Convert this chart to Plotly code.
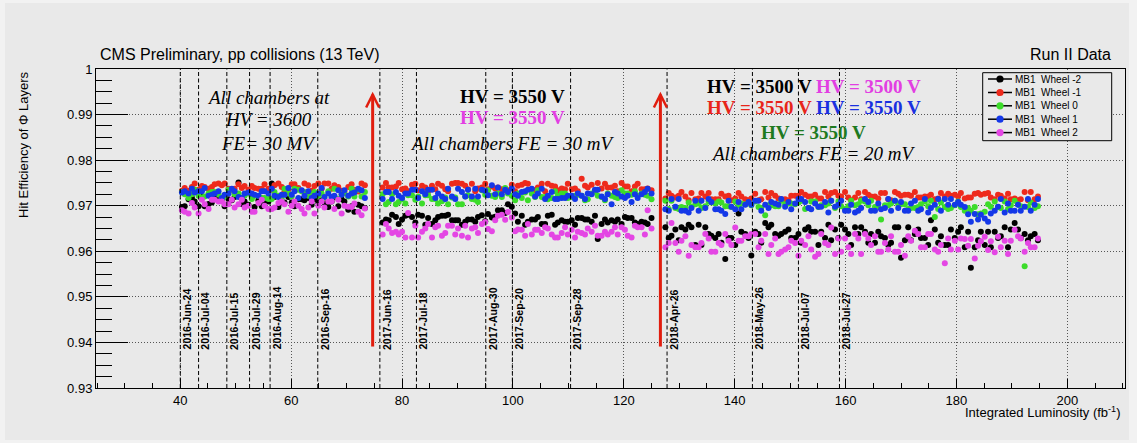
import plotly.graph_objects as go

# Integrated luminosity (fb^-1) of each run, per data-taking year
LUMI_2016 = [40.3, 40.8, 41.5, 42.1, 42.6, 43.3, 43.9, 44.4, 45.1, 45.7,
             46.2, 46.9, 47.5, 48.0, 48.7, 49.3, 49.8, 50.5, 51.1, 51.6,
             52.3, 52.9, 53.4, 54.1, 54.7, 55.2, 55.9, 56.5, 57.0, 57.7,
             58.3, 58.8, 59.5, 60.1, 60.6, 61.3, 61.9, 62.4, 63.1, 63.7,
             64.2, 64.9, 65.5, 66.0, 66.7, 67.3, 67.8, 68.5, 69.1, 69.6,
             70.3, 70.9, 71.4, 72.1, 72.7, 73.3]
LUMI_2017 = [76.5, 77.1, 77.6, 78.2, 78.9, 79.4, 80.0, 80.6, 81.1, 81.8,
             82.4, 82.9, 83.6, 84.2, 84.7, 85.4, 86.0, 86.5, 87.2, 87.8,
             88.3, 89.0, 89.6, 90.1, 90.8, 91.4, 91.9, 92.6, 93.2, 93.7,
             94.4, 95.0, 95.5, 96.2, 96.8, 97.3, 98.0, 98.6, 99.1, 99.8,
             100.4, 100.9, 101.6, 102.2, 102.7, 103.4, 104.0, 104.5, 105.2, 105.8,
             106.3, 107.0, 107.6, 108.1, 108.8, 109.4, 109.9, 110.6, 111.2, 111.7,
             112.4, 113.0, 113.5, 114.2, 114.8, 115.3, 116.0, 116.6, 117.1, 117.8,
             118.4, 118.9, 119.6, 120.2, 120.7, 121.4, 122.0, 122.5, 123.2, 123.8,
             124.3, 125.0]
LUMI_2018 = [127.5, 128.1, 128.6, 129.3, 129.9, 130.4, 131.1, 131.7, 132.2, 132.9,
             133.5, 134.0, 134.7, 135.3, 135.8, 136.5, 137.1, 137.6, 138.3, 138.9,
             139.4, 140.1, 140.7, 141.2, 141.9, 142.5, 143.0, 143.7, 144.3, 144.8,
             145.5, 146.1, 146.6, 147.3, 147.9, 148.4, 149.1, 149.7, 150.2, 150.9,
             151.5, 152.0, 152.7, 153.3, 153.8, 154.5, 155.1, 155.6, 156.3, 156.9,
             157.4, 158.1, 158.7, 159.2, 159.9, 160.5, 161.0, 161.7, 162.3, 162.8,
             163.5, 164.1, 164.6, 165.3, 165.9, 166.4, 167.1, 167.7, 168.2, 168.9,
             169.5, 170.0, 170.7, 171.3, 171.8, 172.5, 173.1, 173.6, 174.3, 174.9,
             175.4, 176.1, 176.7, 177.2, 177.9, 178.5, 179.0, 179.7, 180.3, 180.8,
             181.5, 182.1, 182.6, 183.3, 183.9, 184.4, 185.1, 185.7, 186.2, 186.9,
             187.5, 188.0, 188.7, 189.3, 189.8, 190.5, 191.1, 191.6, 192.3, 192.9,
             193.4, 194.1, 194.7]
LUMI = LUMI_2016 + LUMI_2017 + LUMI_2018

# Hit efficiency of the Phi layers in MB1 chambers, one list per wheel (2016 + 2017 + 2018)
EFF_WM2 = ([0.9697,
            0.9699, 0.9714, 0.9717, 0.9709, 0.9699, 0.9719, 0.9699, 0.9704, 0.9707, 0.9717,
            0.9712, 0.9714, 0.9699, 0.9714, 0.9712, 0.9719, 0.9751, 0.9704, 0.9709, 0.9702,
            0.9719, 0.9697, 0.9712, 0.9699, 0.9709, 0.9709, 0.9749, 0.9719, 0.9697, 0.9707,
            0.9707, 0.9719, 0.9707, 0.9699, 0.9714, 0.9714, 0.9712, 0.9717, 0.9702, 0.9714,
            0.9707, 0.9712, 0.9707, 0.9697, 0.9709, 0.9719, 0.9699, 0.9714, 0.9709, 0.9691,
            0.9699, 0.9687, 0.9702, 0.9699, 0.9695]
           + [0.9663, 0.9670, 0.9668, 0.9680, 0.9675,
              0.9660, 0.9670, 0.9678, 0.9680, 0.9675, 0.9663, 0.9680, 0.9678, 0.9658, 0.9673,
              0.9660, 0.9668, 0.9675, 0.9678, 0.9678, 0.9680, 0.9668, 0.9668, 0.9668, 0.9658,
              0.9665, 0.9670, 0.9670, 0.9665, 0.9675, 0.9679, 0.9666, 0.9682, 0.9674, 0.9676,
              0.9690, 0.9690, 0.9684, 0.9703, 0.9698, 0.9683, 0.9665, 0.9678, 0.9658, 0.9665,
              0.9670, 0.9670, 0.9675, 0.9660, 0.9660, 0.9678, 0.9680, 0.9658, 0.9663, 0.9668,
              0.9665, 0.9665, 0.9668, 0.9658, 0.9673, 0.9673, 0.9670, 0.9670, 0.9665, 0.9678,
              0.9627, 0.9660, 0.9670, 0.9663, 0.9668, 0.9665, 0.9670, 0.9660, 0.9675, 0.9673,
              0.9673, 0.9663, 0.9660, 0.9665, 0.9663, 0.9660, 0.9673]
           + [0.9653, 0.9629, 0.9634,
              0.9648, 0.9624, 0.9653, 0.9648, 0.9658, 0.9653, 0.9614, 0.9658, 0.9614, 0.9653,
              0.9638, 0.9634, 0.9629, 0.9638, 0.9619, 0.9583, 0.9629, 0.9629, 0.9614, 0.9683,
              0.9643, 0.9638, 0.9629, 0.9591, 0.9643, 0.9638, 0.9619, 0.9662, 0.9653, 0.9658,
              0.9638, 0.9634, 0.9638, 0.9643, 0.9648, 0.9629, 0.9629, 0.9638, 0.9619, 0.9648,
              0.9653, 0.9643, 0.9643, 0.9614, 0.9643, 0.9629, 0.9658, 0.9624, 0.9648, 0.9629,
              0.9658, 0.9648, 0.9638, 0.9614, 0.9653, 0.9638, 0.9653, 0.9643, 0.9619, 0.9638,
              0.9619, 0.9643, 0.9633, 0.9629, 0.9614, 0.9619, 0.9653, 0.9653, 0.9586, 0.9624,
              0.9653, 0.9624, 0.9638, 0.9648, 0.9629, 0.9629, 0.9614, 0.9668, 0.9648, 0.9619,
              0.9633, 0.9614, 0.9614, 0.9648, 0.9629, 0.9643, 0.9653, 0.9609, 0.9643, 0.9564,
              0.9609, 0.9624, 0.9643, 0.9614, 0.9643, 0.9609, 0.9643, 0.9629, 0.9633, 0.9653,
              0.9609, 0.9648, 0.9662, 0.9648, 0.9629, 0.9638, 0.9624, 0.9633, 0.9638, 0.9624])

EFF_WM1 = ([0.9733, 0.9739, 0.9733, 0.9741, 0.9749, 0.9735, 0.9743, 0.9741, 0.9737, 0.9741,
            0.9747, 0.9749, 0.9745, 0.9749, 0.9737, 0.9735, 0.9737, 0.9747, 0.9739, 0.9743,
            0.9735, 0.9743, 0.9739, 0.9737, 0.9737, 0.9747, 0.9737, 0.9735, 0.9745, 0.9749,
            0.9741, 0.9731, 0.9735, 0.9747, 0.9747, 0.9739, 0.9733, 0.9749, 0.9745, 0.9733,
            0.9743, 0.9749, 0.9737, 0.9749, 0.9749, 0.9737, 0.9745, 0.9741, 0.9733, 0.9731,
            0.9741, 0.9747, 0.9735, 0.9731, 0.9749, 0.9745]
           + [0.9740, 0.9750, 0.9740, 0.9740,
              0.9742, 0.9750, 0.9736, 0.9738, 0.9732, 0.9746, 0.9748, 0.9734, 0.9744, 0.9740,
              0.9732, 0.9744, 0.9736, 0.9748, 0.9744, 0.9736, 0.9732, 0.9748, 0.9750, 0.9750,
              0.9748, 0.9744, 0.9736, 0.9748, 0.9732, 0.9738, 0.9740, 0.9748, 0.9736, 0.9742,
              0.9738, 0.9740, 0.9736, 0.9734, 0.9734, 0.9746, 0.9732, 0.9744, 0.9746, 0.9750,
              0.9748, 0.9736, 0.9734, 0.9740, 0.9748, 0.9732, 0.9748, 0.9744, 0.9742, 0.9734,
              0.9738, 0.9736, 0.9748, 0.9736, 0.9738, 0.9732, 0.9759, 0.9744, 0.9740, 0.9746,
              0.9732, 0.9750, 0.9738, 0.9748, 0.9740, 0.9740, 0.9744, 0.9732, 0.9750, 0.9742,
              0.9742, 0.9732, 0.9742, 0.9748, 0.9736, 0.9736, 0.9738, 0.9734]
           + [0.9716, 0.9728,
              0.9722, 0.9718, 0.9722, 0.9730, 0.9720, 0.9712, 0.9728, 0.9714, 0.9716, 0.9728,
              0.9720, 0.9728, 0.9714, 0.9714, 0.9714, 0.9726, 0.9720, 0.9722, 0.9712, 0.9716,
              0.9728, 0.9720, 0.9714, 0.9712, 0.9716, 0.9726, 0.9712, 0.9714, 0.9730, 0.9718,
              0.9728, 0.9722, 0.9716, 0.9714, 0.9714, 0.9712, 0.9722, 0.9722, 0.9722, 0.9730,
              0.9724, 0.9720, 0.9720, 0.9724, 0.9716, 0.9716, 0.9730, 0.9720, 0.9728, 0.9730,
              0.9722, 0.9720, 0.9730, 0.9718, 0.9712, 0.9718, 0.9728, 0.9714, 0.9730, 0.9724,
              0.9720, 0.9720, 0.9716, 0.9728, 0.9728, 0.9714, 0.9712, 0.9730, 0.9726, 0.9722,
              0.9724, 0.9724, 0.9722, 0.9730, 0.9718, 0.9718, 0.9720, 0.9720, 0.9724, 0.9714,
              0.9716, 0.9728, 0.9720, 0.9726, 0.9722, 0.9724, 0.9720, 0.9728, 0.9716, 0.9718,
              0.9718, 0.9726, 0.9728, 0.9724, 0.9726, 0.9728, 0.9718, 0.9714, 0.9724, 0.9722,
              0.9716, 0.9726, 0.9714, 0.9716, 0.9712, 0.9714, 0.9730, 0.9712, 0.9730, 0.9714,
              0.9720])

EFF_W0 = ([0.9730, 0.9725, 0.9717, 0.9725, 0.9735, 0.9722, 0.9717,
           0.9720, 0.9727, 0.9730, 0.9730, 0.9725, 0.9715, 0.9720, 0.9735, 0.9735, 0.9725,
           0.9727, 0.9715, 0.9722, 0.9727, 0.9715, 0.9722, 0.9722, 0.9717, 0.9717, 0.9715,
           0.9715, 0.9730, 0.9722, 0.9715, 0.9737, 0.9727, 0.9720, 0.9737, 0.9735, 0.9732,
           0.9730, 0.9722, 0.9725, 0.9730, 0.9722, 0.9727, 0.9717, 0.9732, 0.9717, 0.9737,
           0.9715, 0.9725, 0.9727, 0.9720, 0.9737, 0.9720, 0.9735, 0.9720, 0.9730]
          + [0.9725,
             0.9703, 0.9708, 0.9725, 0.9703, 0.9708, 0.9715, 0.9705, 0.9723, 0.9723, 0.9713,
             0.9720, 0.9705, 0.9723, 0.9723, 0.9715, 0.9715, 0.9705, 0.9710, 0.9718, 0.9703,
             0.9718, 0.9718, 0.9703, 0.9703, 0.9720, 0.9723, 0.9715, 0.9713, 0.9708,
             0.9734,
             0.9724, 0.9734, 0.9722, 0.9719, 0.9727, 0.9719, 0.9739, 0.9727, 0.9722,
             0.9712,
             0.9727, 0.9717, 0.9729, 0.9712, 0.9727, 0.9719, 0.9734, 0.9719, 0.9719, 0.9714,
             0.9717, 0.9732, 0.9722, 0.9727, 0.9727, 0.9717, 0.9719, 0.9722, 0.9724, 0.9722,
             0.9712, 0.9714, 0.9727, 0.9732, 0.9722, 0.9719, 0.9712, 0.9727, 0.9722, 0.9719,
             0.9717, 0.9734, 0.9727, 0.9727, 0.9724, 0.9732, 0.9722, 0.9727, 0.9724, 0.9722,
             0.9714]
          + [0.9711, 0.9693, 0.9711, 0.9695, 0.9693, 0.9697, 0.9695, 0.9707, 0.9697,
             0.9703, 0.9705, 0.9695, 0.9699, 0.9709, 0.9707, 0.9705, 0.9709, 0.9707, 0.9699,
             0.9699, 0.9697, 0.9709, 0.9701, 0.9705, 0.9703, 0.9707, 0.9701, 0.9709, 0.9697,
             0.9695, 0.9679, 0.9701, 0.9701, 0.9699, 0.9699, 0.9711, 0.9703, 0.9705, 0.9705,
             0.9703, 0.9707, 0.9711, 0.9693, 0.9695, 0.9709, 0.9709, 0.9697, 0.9701, 0.9701,
             0.9705, 0.9711, 0.9695, 0.9709, 0.9699, 0.9693, 0.9699, 0.9711, 0.9701, 0.9703,
             0.9711, 0.9709, 0.9701, 0.9711, 0.9697, 0.9697, 0.9670, 0.9701, 0.9701, 0.9705,
             0.9711, 0.9703, 0.9703, 0.9703, 0.9693, 0.9695, 0.9695, 0.9697, 0.9703, 0.9709,
             0.9699, 0.9711, 0.9675, 0.9693, 0.9707, 0.9697, 0.9693, 0.9695, 0.9701, 0.9709,
             0.9697, 0.9689, 0.9695, 0.9689, 0.9697, 0.9681, 0.9683, 0.9687, 0.9703, 0.9698,
             0.9709, 0.9697, 0.9695, 0.9709, 0.9693, 0.9701, 0.9711, 0.9703, 0.9699, 0.9567,
             0.9697, 0.9707, 0.9695, 0.9699])

EFF_W1 = ([0.9729, 0.9732, 0.9727, 0.9737, 0.9729, 0.9732, 0.9732, 0.9739, 0.9722,
           0.9724, 0.9727, 0.9732, 0.9717, 0.9724, 0.9727, 0.9737, 0.9732, 0.9719, 0.9717,
           0.9727, 0.9729, 0.9727, 0.9724, 0.9722, 0.9732, 0.9732, 0.9727, 0.9737, 0.9722,
           0.9719, 0.9724, 0.9724, 0.9739, 0.9724, 0.9732, 0.9717, 0.9734, 0.9722, 0.9732,
           0.9717, 0.9722, 0.9727, 0.9739, 0.9719, 0.9727, 0.9719, 0.9722, 0.9734, 0.9724,
           0.9734, 0.9722, 0.9727, 0.9729, 0.9737, 0.9734, 0.9717]
          + [0.9715, 0.9730, 0.9730,
             0.9715, 0.9730, 0.9722, 0.9717, 0.9727, 0.9727, 0.9735, 0.9735, 0.9717, 0.9732,
             0.9725, 0.9735, 0.9735, 0.9717, 0.9727, 0.9720, 0.9715, 0.9737, 0.9720, 0.9715,
             0.9737, 0.9730, 0.9720, 0.9735, 0.9720, 0.9737, 0.9720, 0.9735, 0.9733, 0.9723,
             0.9745, 0.9725, 0.9740, 0.9725, 0.9735, 0.9730, 0.9738, 0.9725, 0.9722, 0.9730,
             0.9732, 0.9735, 0.9737, 0.9720, 0.9727, 0.9737, 0.9715, 0.9722, 0.9730, 0.9715,
             0.9715, 0.9717, 0.9717, 0.9722, 0.9722, 0.9715, 0.9727, 0.9722, 0.9715, 0.9727,
             0.9725, 0.9735, 0.9735, 0.9720, 0.9715, 0.9725, 0.9703, 0.9730, 0.9727, 0.9720,
             0.9717, 0.9722, 0.9708, 0.9725, 0.9717, 0.9725, 0.9730, 0.9737, 0.9727]
          + [0.9692, 0.9689, 0.9715, 0.9698, 0.9715, 0.9689, 0.9689, 0.9685, 0.9695, 0.9711,
             0.9689, 0.9711, 0.9695, 0.9715, 0.9708, 0.9692, 0.9692, 0.9689, 0.9682, 0.9711,
             0.9698, 0.9692, 0.9708, 0.9692, 0.9702, 0.9708, 0.9702, 0.9711, 0.9711, 0.9689,
             0.9702, 0.9695, 0.9708, 0.9705, 0.9702, 0.9715, 0.9698, 0.9708, 0.9692, 0.9705,
             0.9715, 0.9715, 0.9708, 0.9695, 0.9692, 0.9705, 0.9698, 0.9698, 0.9708, 0.9685,
             0.9711, 0.9698, 0.9702, 0.9711, 0.9689, 0.9689, 0.9702, 0.9685, 0.9689, 0.9695,
             0.9715, 0.9708, 0.9689, 0.9689, 0.9705, 0.9692, 0.9695, 0.9715, 0.9689, 0.9711,
             0.9695, 0.9708, 0.9689, 0.9689, 0.9705, 0.9711, 0.9689, 0.9692, 0.9715, 0.9685,
             0.9695, 0.9702, 0.9715, 0.9689, 0.9715, 0.9702, 0.9715, 0.9702, 0.9708, 0.9702,
             0.9697, 0.9681, 0.9665, 0.9682, 0.9670, 0.9680, 0.9672, 0.9665, 0.9683, 0.9689,
             0.9698, 0.9715, 0.9685, 0.9705, 0.9689, 0.9689, 0.9702, 0.9689, 0.9698, 0.9715,
             0.9689, 0.9702, 0.9715])

EFF_W2 = ([0.9690, 0.9687, 0.9683, 0.9706, 0.9696, 0.9683, 0.9713, 0.9703, 0.9693, 0.9713,
           0.9713, 0.9709, 0.9709, 0.9703, 0.9703, 0.9713, 0.9696, 0.9703, 0.9713, 0.9696,
           0.9700, 0.9687, 0.9687, 0.9706, 0.9713, 0.9700, 0.9693, 0.9693, 0.9696, 0.9706,
           0.9709, 0.9703, 0.9687, 0.9700, 0.9709, 0.9700, 0.9693, 0.9683, 0.9696, 0.9709,
           0.9683, 0.9700, 0.9709, 0.9696, 0.9709, 0.9709, 0.9693, 0.9713, 0.9683, 0.9700,
           0.9698, 0.9697, 0.9705, 0.9687, 0.9679, 0.9694]
          + [0.9637, 0.9660, 0.9650, 0.9640,
             0.9643, 0.9637, 0.9643, 0.9630, 0.9684, 0.9630, 0.9656, 0.9630, 0.9643, 0.9650,
             0.9660, 0.9630, 0.9653, 0.9656, 0.9634, 0.9640, 0.9656, 0.9656, 0.9637, 0.9650,
             0.9634, 0.9656, 0.9630, 0.9650, 0.9653, 0.9640, 0.9660, 0.9664, 0.9649, 0.9644,
             0.9668, 0.9678, 0.9680, 0.9669, 0.9686, 0.9674, 0.9644, 0.9648, 0.9647, 0.9634,
             0.9660, 0.9637, 0.9647, 0.9647, 0.9640, 0.9653, 0.9650, 0.9637, 0.9630, 0.9630,
             0.9640, 0.9653, 0.9637, 0.9647, 0.9630, 0.9643, 0.9640, 0.9637, 0.9650, 0.9643,
             0.9656, 0.9634, 0.9634, 0.9643, 0.9637, 0.9643, 0.9653, 0.9637, 0.9653, 0.9647,
             0.9634, 0.9630, 0.9656, 0.9653, 0.9653, 0.9637, 0.9690, 0.9650]
          + [0.9609, 0.9618, 0.9662, 0.9618, 0.9599, 0.9623, 0.9633,
             0.9590, 0.9614, 0.9609, 0.9609, 0.9618, 0.9638, 0.9628, 0.9599, 0.9599, 0.9618,
             0.9614, 0.9638, 0.9623, 0.9614, 0.9652, 0.9623, 0.9623, 0.9633, 0.9633, 0.9638,
             0.9638, 0.9609, 0.9623, 0.9638, 0.9594, 0.9614, 0.9628, 0.9594, 0.9599, 0.9604,
             0.9609, 0.9623, 0.9618, 0.9590, 0.9623, 0.9614, 0.9633, 0.9604, 0.9588, 0.9594,
             0.9638, 0.9618, 0.9614, 0.9652, 0.9594, 0.9628, 0.9599, 0.9628, 0.9609, 0.9594,
             0.9638, 0.9628, 0.9594, 0.9638, 0.9628, 0.9614, 0.9633, 0.9599, 0.9599, 0.9618,
             0.9604, 0.9633, 0.9599, 0.9599, 0.9614, 0.9590, 0.9633, 0.9623, 0.9645, 0.9638,
             0.9609, 0.9609, 0.9638, 0.9638, 0.9604, 0.9599, 0.9614, 0.9574, 0.9628, 0.9604,
             0.9623, 0.9604, 0.9628, 0.9627, 0.9612, 0.9627, 0.9584, 0.9612, 0.9622, 0.9632,
             0.9603, 0.9622, 0.9598, 0.9632, 0.9609, 0.9623, 0.9594, 0.9623, 0.9647, 0.9633,
             0.9628, 0.9599, 0.9618, 0.9609, 0.9609, 0.9628])

EFF_ERR = 0.0005

WHEEL_NAMES = ["MB1\u00a0 Wheel -2", "MB1\u00a0 Wheel -1", "MB1\u00a0 Wheel 0",
               "MB1\u00a0 Wheel 1", "MB1\u00a0 Wheel 2"]
WHEEL_COLORS = ["#000000", "#ee2a1c", "#3cdc2a", "#1438e8", "#e446e4"]
WHEEL_EFF = [EFF_WM2, EFF_WM1, EFF_W0, EFF_W1, EFF_W2]

# Dates of changes, with the luminosity reached at that date
DATE_LABELS = ["2016-Jun-24", "2016-Jul-04", "2016-Jul-15", "2016-Jul-29", "2016-Aug-14",
               "2016-Sep-16", "2017-Jun-16", "2017-Jul-18", "2017-Aug-30", "2017-Sep-20",
               "2017-Sep-28", "2018-Apr-26", "2018-May-26", "2018-Jul-07", "2018-Jul-27"]
DATE_LUMI = [40.0, 43.3, 48.4, 52.5, 56.2, 64.8, 76.0, 82.6, 95.1, 99.9,
             110.4, 127.8, 143.2, 151.5, 158.9]

# Working point changes (arrows) between the years
CHANGE_LUMI = [74.7, 126.6]
ARROW_FROM, ARROW_TO = 0.9391, 0.9944

for eff in WHEEL_EFF:
    assert len(eff) == len(LUMI), (len(eff), len(LUMI))

# ---- layout geometry (pixels) ----
W, H = 1137, 443
L, R, T, B = 96, 1125, 69, 388
X_RANGE = [24.8, 210.4]
Y_RANGE = [0.93, 1.0]


def px(p):
    return (p - L) / (R - L)


def py(p):
    return (B - p) / (B - T)


fig = go.Figure()

for name, color, eff in zip(WHEEL_NAMES, WHEEL_COLORS, WHEEL_EFF):
    fig.add_trace(go.Scatter(
        x=LUMI, y=eff, mode="markers", name=name,
        marker=dict(symbol="circle", size=6, color=color, line=dict(width=0)),
        error_y=dict(type="constant", value=EFF_ERR, thickness=1, width=0, color=color),
        showlegend=False,
    ))

shapes = []
annotations = []

# canvas panel
shapes.append(dict(type="rect", xref="paper", yref="paper", layer="below",
                   x0=px(5), x1=px(1129), y0=py(440), y1=py(3),
                   fillcolor="#e9e9e9", line=dict(width=0)))

# dashed date markers with rotated labels
for lab, lum in zip(DATE_LABELS, DATE_LUMI):
    shapes.append(dict(type="line", xref="x", yref="y", x0=lum, x1=lum,
                       y0=Y_RANGE[0], y1=Y_RANGE[1],
                       line=dict(color="#000000", width=1, dash="4px,2.5px")))
    annotations.append(dict(x=lum, y=0.9382, xref="x", yref="y", text=lab,
                            textangle=-90, xanchor="left", yanchor="bottom",
                            showarrow=False, borderpad=0,
                            font=dict(family="Liberation Sans", size=10.5,
                                      color="#000000", weight="bold")))

# red arrows at the working point changes: shaft plus an open head
ARROW_RED = "#e11d0e"
for lum in CHANGE_LUMI:
    shapes.append(dict(type="line", xref="x", yref="y", x0=lum, x1=lum,
                       y0=ARROW_FROM, y1=ARROW_TO,
                       line=dict(color=ARROW_RED, width=3)))
    shapes.append(dict(type="path", xref="x", yref="y",
                       xsizemode="pixel", ysizemode="pixel",
                       xanchor=lum, yanchor=ARROW_TO,
                       path="M-6.5,-13L0,0L6.5,-13",
                       line=dict(color=ARROW_RED, width=2.5)))

SERIF = "Liberation Serif"
MAG, RED, BLU, GRN = "#e23ee2", "#e8251a", "#1a30e0", "#1f7a1f"


def note(x, y, text, color="#000000"):
    annotations.append(dict(x=x, y=y, xref="x", yref="y", text=text,
                            showarrow=False, xanchor="center", yanchor="middle",
                            font=dict(family=SERIF, size=19, color=color)))


note(55.9, 0.99364, "<i>All chambers at</i>")
note(55.9, 0.98889, "<i>HV = 3600</i>")
note(55.9, 0.98376, "<i>FE= 30 MV</i>")

note(100.0, 0.99399, "<b>HV = 3550 V</b>")
note(100.0, 0.98925, "<b>HV = 3550 V</b>", MAG)
note(100.0, 0.98376, "<i>All chambers FE = 30 mV</i>")

note(154.3, 0.99618, '<b>HV = 3500 V <span style="color:%s">HV = 3500 V</span></b>' % MAG)
note(154.3, 0.99158, '<b><span style="color:%s">HV = 3550 V</span> '
                     '<span style="color:%s">HV = 3550 V</span></b>' % (RED, BLU))
note(154.3, 0.98609, "<b>HV = 3550 V</b>", GRN)
note(154.3, 0.98135, "<i>All chambers FE = 20 mV</i>")

SANS = "Liberation Sans"
# titles
annotations.append(dict(x=px(98), y=py(54), xref="paper", yref="paper",
                        text="CMS Preliminary, pp collisions (13 TeV)",
                        xanchor="left", yanchor="middle", showarrow=False,
                        font=dict(family=SANS, size=16, color="#000000")))
annotations.append(dict(x=px(1113), y=py(54), xref="paper", yref="paper",
                        text="Run II Data", xanchor="right", yanchor="middle",
                        showarrow=False, font=dict(family=SANS, size=16, color="#000000")))
annotations.append(dict(x=px(23), y=py(70), xref="paper", yref="paper",
                        text="Hit Efficiency of \u03a6 Layers", textangle=-90,
                        xanchor="center", yanchor="top", showarrow=False,
                        font=dict(family=SANS, size=13, color="#000000")))
annotations.append(dict(x=px(1123), y=py(412), xref="paper", yref="paper",
                        text="Integrated Luminosity (fb<sup>-1</sup>)",
                        xanchor="right", yanchor="middle", showarrow=False,
                        font=dict(family=SANS, size=13, color="#000000")))

# legend box
LEG_X0, LEG_X1, LEG_Y0, LEG_Y1 = 982.7, 1111.7, 72.7, 140.7
LEG_ROWS = [79.0, 92.5, 105.8, 119.2, 132.6]
shapes.append(dict(type="rect", xref="paper", yref="paper",
                   x0=px(LEG_X0), x1=px(LEG_X1), y0=py(LEG_Y1), y1=py(LEG_Y0),
                   fillcolor="#e9e9e9", line=dict(color="#000000", width=1)))
for row, name, color in zip(LEG_ROWS, WHEEL_NAMES, WHEEL_COLORS):
    shapes.append(dict(type="line", xref="paper", yref="paper",
                       x0=px(988), x1=px(1012), y0=py(row), y1=py(row),
                       line=dict(color="#000000", width=1.5)))
    shapes.append(dict(type="circle", xref="paper", yref="paper",
                       x0=px(996.4), x1=px(1003.6), y0=py(row + 3.6), y1=py(row - 3.6),
                       fillcolor=color, line=dict(color=color, width=0)))
    annotations.append(dict(x=px(1014), y=py(row), xref="paper", yref="paper",
                            text=name, xanchor="left", yanchor="middle",
                            showarrow=False, borderpad=0,
                            font=dict(family=SANS, size=10, color="#000000")))

axis_common = dict(showline=True, linecolor="#000000", linewidth=1, mirror=True,
                   ticks="inside", tickcolor="#000000", tickwidth=1,
                   showgrid=True, gridcolor="#555555", gridwidth=1, griddash="1px,2px",
                   zeroline=False, tickfont=dict(family=SANS, size=13, color="#000000"))

fig.update_layout(
    width=W, height=H,
    margin=dict(l=L, r=W - R, t=T, b=H - B),
    paper_bgcolor="#f2f2f2", plot_bgcolor="#e9e9e9",
    showlegend=False,
    shapes=shapes, annotations=annotations,
    xaxis=dict(range=X_RANGE, dtick=20, tick0=0, ticklen=9,
               minor=dict(ticks="inside", ticklen=5, dtick=5, tick0=0,
                          tickcolor="#000000", showgrid=False),
               **axis_common),
    yaxis=dict(range=Y_RANGE, dtick=0.01, tick0=0.93, ticklen=32,
               minor=dict(ticks="inside", ticklen=16, dtick=0.0025, tick0=0.93,
                          tickcolor="#000000", showgrid=False),
               **axis_common),
)

fig.write_html("out.html")
